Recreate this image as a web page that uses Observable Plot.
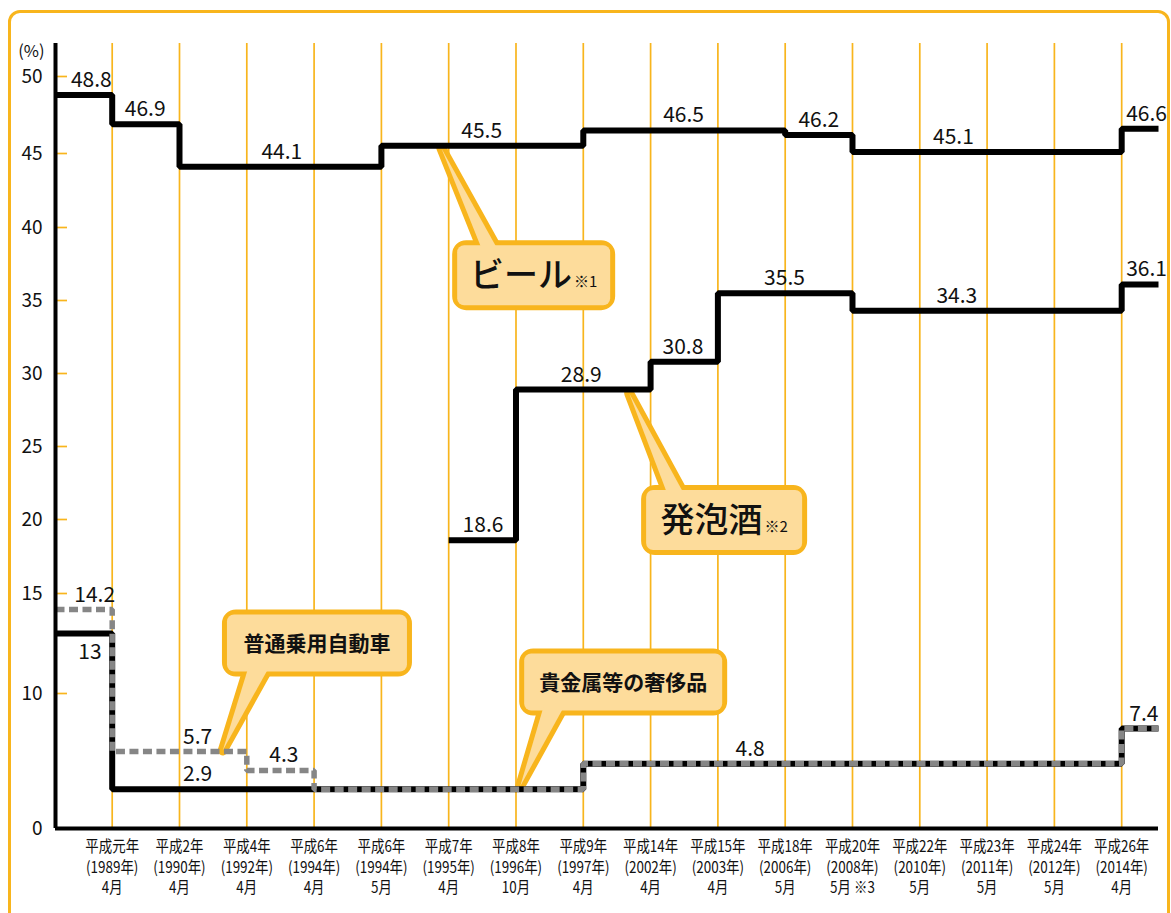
<!DOCTYPE html>
<html><head><meta charset="utf-8">
<script src="https://cdn.jsdelivr.net/npm/d3@7"></script>
<script src="https://cdn.jsdelivr.net/npm/@observablehq/plot@0.6"></script>
<style>
html,body{margin:0;padding:0;background:#fff;overflow:hidden;}
#wrap{position:relative;width:1171px;height:913px;overflow:hidden;}
#frame{position:absolute;left:8px;top:10px;width:1162px;height:960px;border:3.5px solid #f8b51d;border-radius:12px;box-sizing:border-box;}
#chart{position:absolute;left:0;top:0;}
</style></head>
<body><div id="wrap"><div id="frame"></div><div id="chart"></div></div>
<script>
// ---- data ----
const periods = [
  "平成元年\n(1989年)\n4月","平成2年\n(1990年)\n4月","平成4年\n(1992年)\n4月","平成6年\n(1994年)\n4月",
  "平成6年\n(1994年)\n5月","平成7年\n(1995年)\n4月","平成8年\n(1996年)\n10月","平成9年\n(1997年)\n4月",
  "平成14年\n(2002年)\n4月","平成15年\n(2003年)\n4月","平成18年\n(2006年)\n5月","平成20年\n(2008年)\n5月 ※3",
  "平成22年\n(2010年)\n5月","平成23年\n(2011年)\n5月","平成24年\n(2012年)\n5月","平成26年\n(2014年)\n4月"
];
const yTicks = [0, 10, 15, 20, 25, 30, 35, 40, 45, 50];

// step series: period index where each rate starts (null = before 1989)
const beerFrom = [null, 0, 1, 4, 7, 10, 11, 15];
const beerRate = [48.8, 46.9, 44.1, 45.5, 46.5, 46.2, 45.1, 46.6];
const happoFrom = [5, 6, 8, 9, 11, 15];
const happoRate = [18.6, 28.9, 30.8, 35.5, 34.3, 36.1];
const carFrom = [null, 0, 7, 15];
const carRate = [13, 2.9, 4.8, 7.4];
const luxFrom = [null, 0, 2, 3, 7, 15];
const luxRate = [14.2, 5.7, 4.3, 2.9, 4.8, 7.4];

// value label anchors (period-index units)
const beerLabelAt = [-0.31, 0.49, 2.52, 5.49, 8.49, 10.5, 12.5, 15.37];
const happoLabelAt = [5.51, 6.97, 8.48, 9.99, 12.55, 15.37];
const carLabelAt = [-0.33, 1.27, 9.48, 15.33];
const carLabelBelow = [true, false, false, false];
const luxLabelAt = [-0.26, 1.27, 2.55, null, null, null];

// callout names and anchors
const calloutNames = ["ビール", "発泡酒", "普通乗用自動車", "貴金属等の奢侈品"];
const calloutNotes = ["※1", "※2", "", ""];
const callouts = [
  {cx: 6.27, cy: 36.7, w: 153, h: 60, tipX: 4.9, tipY: 45.3, side: -1, b0: -51, b1: -35, size: 34, weight: 500},
  {cx: 9.10, cy: 19.93, w: 156, h: 60, tipX: 7.69, tipY: 28.6, side: -1, b0: -56, b1: -39, size: 34, weight: 500},
  {cx: 3.05, cy: 12.5, w: 180, h: 57, tipX: 1.65, tipY: 5.75, side: 1, b0: -68, b1: -47, size: 21, weight: 700},
  {cx: 7.6, cy: 10.55, w: 198, h: 57, tipX: 6.07, tipY: 3.1, side: 1, b0: -79, b1: -58, size: 21, weight: 700}
];

// ---- layout ----
const X0 = -0.8425, X1 = 15.547;
const ORANGE = "#f8b51d", FILL = "#fddc9b";
const FONT = "'Noto Sans CJK JP', 'Noto Sans', sans-serif";
// the printed axis is not uniform: each tick interval has its own length
const warp = d3.scaleLinear().domain(yTicks).range([0, 135, 235, 309, 382, 455, 528, 601, 675, 752]);
const W_TOP = 785;

function steps(from, rate) {
  const pts = from.map((f, i) => ({x: f ?? X0, y: rate[i]}));
  pts.push({x: X1, y: rate[rate.length - 1]});
  return pts;
}
function labels(at, rate, below) {
  return at.map((x, i) => x == null ? null : {x, y: rate[i], below: !!(below && below[i])}).filter(Boolean);
}
const allLabels = [
  ...labels(beerLabelAt, beerRate),
  ...labels(happoLabelAt, happoRate),
  ...labels(carLabelAt, carRate, carLabelBelow),
  ...labels(luxLabelAt, luxRate)
];

function calloutMark(index, scales) {
  const x = scales.x, y = v => scales.y(warp(v));
  const g = d3.create("svg:g").attr("aria-label", "callouts");
  callouts.forEach((c, k) => {
    const cx = x(c.cx), cy = y(c.cy);
    const left = cx - c.w / 2, top = cy - c.h / 2;
    const edge = c.side < 0 ? top + 6 : top + c.h - 6;
    const tri = [[cx + c.b0, edge], [cx + c.b1, edge], [x(c.tipX), y(c.tipY)]];
    const pts = tri.map(p => p.join(",")).join(" ");
    g.append("rect").attr("x", left).attr("y", top).attr("width", c.w).attr("height", c.h)
      .attr("rx", 9).attr("fill", "none").attr("stroke", ORANGE).attr("stroke-width", 10);
    g.append("polygon").attr("points", pts).attr("fill", "none").attr("stroke", ORANGE)
      .attr("stroke-width", 10).attr("stroke-linejoin", "round");
    g.append("rect").attr("x", left).attr("y", top).attr("width", c.w).attr("height", c.h)
      .attr("rx", 7).attr("fill", FILL);
    g.append("polygon").attr("points", pts).attr("fill", FILL);
    const t = g.append("text").attr("x", cx).attr("y", cy + c.size * 0.36)
      .attr("text-anchor", "middle").attr("font-family", FONT).attr("fill", "#111");
    t.append("tspan").attr("font-size", c.size).attr("font-weight", c.weight).text(calloutNames[k]);
    if (calloutNotes[k]) t.append("tspan").attr("font-size", 15).attr("dx", 2).text(calloutNotes[k]);
  });
  return g.node();
}

const lineStyle = {x: "x", y: d => warp(d.y), curve: "step-after", strokeLinejoin: "miter", strokeLinecap: "butt"};

const chart = Plot.plot({
  width: 1171, height: 913,
  marginLeft: 55, marginRight: 13, marginTop: 43, marginBottom: 85,
  x: {domain: [X0, X1]},
  y: {domain: [0, W_TOP]},
  style: {fontFamily: FONT, background: "transparent", color: "#111", overflow: "visible"},
  marks: [
    Plot.ruleX(d3.range(periods.length), {y1: 0, y2: W_TOP, stroke: ORANGE, strokeWidth: 1.7}),
    Plot.axisY({ticks: yTicks.map(warp), tickSize: 12, dx: 12, fill: "none", stroke: ORANGE, strokeWidth: 1.7, label: null}),
    Plot.axisY({ticks: yTicks.map(warp), tickFormat: d => String(Math.round(warp.invert(d))), tickSize: 0, tickPadding: 13, fontSize: 19, label: null}),
    Plot.text(["(%)"], {x: X0, y: warp(51.6), dx: -11, textAnchor: "end", fontSize: 16.5}),
    Plot.axisX({ticks: d3.range(periods.length), tickFormat: d => periods[d], tickSize: 0, tickPadding: 9,
      fontSize: 16, lineHeight: 1.28, label: null}),
    calloutMark,
    Plot.line(steps(carFrom, carRate), {...lineStyle, stroke: "#000", strokeWidth: 6}),
    Plot.line(steps(luxFrom, luxRate), {...lineStyle, stroke: "#868686", strokeWidth: 5.5, strokeDasharray: "9,4.5"}),
    Plot.line(steps(beerFrom, beerRate), {...lineStyle, stroke: "#000", strokeWidth: 6}),
    Plot.line(steps(happoFrom, happoRate), {...lineStyle, stroke: "#000", strokeWidth: 6}),
    Plot.text(allLabels.filter(d => !d.below), {x: "x", y: d => warp(d.y), text: d => String(d.y), lineAnchor: "bottom", dy: -8, fontSize: 21}),
    Plot.text(allLabels.filter(d => d.below), {x: "x", y: d => warp(d.y), text: d => String(d.y), lineAnchor: "top", dy: 11, fontSize: 21}),
    Plot.ruleX([X0], {y1: 0, y2: W_TOP, stroke: "#000", strokeWidth: 4}),
    Plot.ruleY([0], {x1: X0, x2: X1, stroke: "#000", strokeWidth: 4})
  ]
});
chart.querySelectorAll('[aria-label="x-axis tick label"] text').forEach(t => {
  const tr = t.getAttribute("transform") || "";
  t.setAttribute("transform", tr + " scale(0.84,1)");
});
document.getElementById("chart").appendChild(chart);
</script>
</body></html>
